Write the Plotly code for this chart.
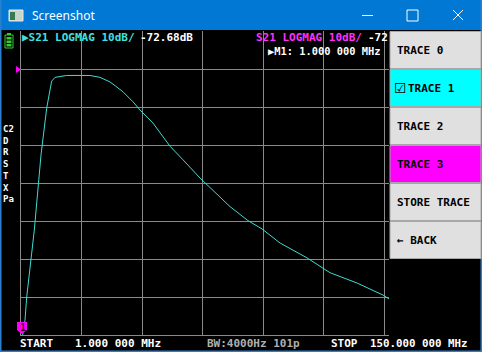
import plotly.graph_objects as go

# ---------------- data ----------------
freq_mhz = [1.0, 2.62, 3.31, 5.05, 6.39, 9.1, 11.4, 13.4, 14.8, 19.5, 24.9, 28.9,
            33.0, 37.0, 39.1, 42.3, 46.3, 49.2, 54.4, 61.3, 66.6, 73.5, 85.6,
            92.9, 98.6, 105.9, 116.8, 126.1, 137.0, 147.6, 150.0]
s21_db = [-72.68, -66.1, -60.0, -50.3, -42.4, -22.6, -10.3, -3.2, -2.2, -1.7,
          -1.6, -1.7, -2.2, -3.4, -4.4, -6.0, -8.6, -10.8, -14.2, -20.3, -23.9,
          -28.7, -36.2, -39.9, -42.1, -45.8, -49.7, -53.6, -56.3, -59.5, -60.5]
start_mhz, stop_mhz = 1.0, 150.0
ref_db, db_per_div, n_div_y = 10, 10, 8
menu_labels = ["TRACE 0", "☑ TRACE 1", "TRACE 2", "TRACE 3", "STORE TRACE", "← BACK"]
menu_colors = ["#e0e0e0", "#00ffff", "#e0e0e0", "#ff00ff", "#e0e0e0", "#e0e0e0"]
side_labels = ["C2", "D", "R", "S", "T", "X", "Pa"]

# ---------------- geometry ----------------
W, H = 482, 352
L, R, T, B = 21, 389, 31, 335


def px(x):
    return (x - L) / (R - L)


def py(y):
    return (B - y) / (B - T)


MONO = "DejaVu Sans Mono"
fig = go.Figure()
fig.add_trace(go.Scatter(x=freq_mhz, y=s21_db, mode="lines",
                         line=dict(color="#3fdcd0", width=1), hoverinfo="skip"))

grid = "#8a8a8a"
fig.update_layout(
    width=W, height=H, margin=dict(l=L, r=W - R, t=T, b=H - B),
    paper_bgcolor="black", plot_bgcolor="black", showlegend=False,
    xaxis=dict(range=[start_mhz, stop_mhz], tick0=1, dtick=24.5, showgrid=True,
               gridcolor=grid, gridwidth=1, showticklabels=False, ticks="",
               zeroline=False, showline=True, linecolor=grid, linewidth=1),
    yaxis=dict(range=[ref_db - db_per_div * n_div_y, ref_db], dtick=db_per_div,
               showgrid=True, gridcolor=grid, gridwidth=1, showticklabels=False,
               ticks="", zeroline=False, showline=True, linecolor=grid, linewidth=1),
)

shapes = []
ann = []

# title bar
shapes.append(dict(type="rect", xref="paper", yref="paper", x0=px(0), x1=px(W),
                   y0=py(0), y1=py(30), fillcolor="#0078d4", line=dict(width=0)))
# window border
for (x0, x1, y0, y1) in [(0, 1.5, 0, H), (W - 1.5, W, 0, H), (0, W, H - 1.5, H)]:
    shapes.append(dict(type="rect", xref="paper", yref="paper", x0=px(x0), x1=px(x1),
                       y0=py(y0), y1=py(y1), fillcolor="#2a7fd0", line=dict(width=0)))
# title icon
shapes.append(dict(type="rect", xref="paper", yref="paper", x0=px(9), x1=px(23),
                   y0=py(10), y1=py(21), fillcolor="#c8d4c8", line=dict(color="#e8e8e8", width=1)))
shapes.append(dict(type="rect", xref="paper", yref="paper", x0=px(10), x1=px(15),
                   y0=py(12), y1=py(20), fillcolor="#3a7a50", line=dict(width=0)))
ann.append(dict(text="Screenshot", xref="paper", yref="paper", x=px(30), y=py(15),
                xanchor="left", yanchor="middle", showarrow=False,
                font=dict(family="Noto Sans", size=12, color="white")))
# window controls
wc = dict(color="white", width=1)
shapes.append(dict(type="line", xref="paper", yref="paper", x0=px(362), x1=px(373),
                   y0=py(15.5), y1=py(15.5), line=wc))
shapes.append(dict(type="rect", xref="paper", yref="paper", x0=px(407), x1=px(418),
                   y0=py(10), y1=py(21), line=wc))
shapes.append(dict(type="line", xref="paper", yref="paper", x0=px(453), x1=px(463),
                   y0=py(10), y1=py(20), line=wc))
shapes.append(dict(type="line", xref="paper", yref="paper", x0=px(453), x1=px(463),
                   y0=py(20), y1=py(10), line=wc))

# battery icon
shapes.append(dict(type="rect", xref="paper", yref="paper", x0=px(5), x1=px(13),
                   y0=py(35), y1=py(48), fillcolor="black", line=dict(color="#30d030", width=1)))
shapes.append(dict(type="rect", xref="paper", yref="paper", x0=px(7), x1=px(11),
                   y0=py(33), y1=py(35), fillcolor="#30d030", line=dict(width=0)))
for yy in [37, 40.5, 44]:
    shapes.append(dict(type="rect", xref="paper", yref="paper", x0=px(6.5), x1=px(11.5),
                       y0=py(yy), y1=py(yy + 2.5), fillcolor="#30d030", line=dict(width=0)))

# reference level marker
shapes.append(dict(type="path", xref="paper", yref="paper",
                   path=f"M {px(16)} {py(66)} L {px(21)} {py(69.5)} L {px(16)} {py(73)} Z",
                   fillcolor="#ff00ff", line=dict(width=0)))

# side labels (one stacked text block)
ann.append(dict(text="<b>" + "<br>".join(side_labels) + "</b>", xref="paper", yref="paper",
                x=px(1.5), y=py(164), xanchor="left", yanchor="middle", align="left",
                showarrow=False, borderpad=0,
                font=dict(family=MONO, size=9, color="white")))


def label(text, x, y, color, size=11, family=MONO):
    ann.append(dict(text=f"<b>{text}</b>", xref="paper", yref="paper", x=px(x), y=py(y),
                    xanchor="left", yanchor="middle", showarrow=False, borderpad=0,
                    font=dict(family=family, size=size, color=color)))


# header
label("▶S21 LOGMAG 10dB/", 21, 37.5, "#40e0e0")
label("-72.68dB", 139, 37.5, "white")
label("S21 LOGMAG 10dB/", 255, 37, "#ff30ff")
label("-72", 367, 37, "white")
label("▶M1: 1.000 000 MHz", 267, 50.5, "white", size=10.4)

# footer
label("START", 19, 343, "white")
label("1.000 000 MHz", 74, 343, "white")
label("BW:4000Hz 101p", 206, 343, "#b0b0b0")
label("STOP", 330, 343, "white")
label("150.000 000 MHz", 369, 343, "white", size=10.8)

# marker 1
shapes.append(dict(type="path", xref="paper", yref="paper",
                   path=(f"M {px(17)} {py(322)} L {px(27)} {py(322)} L {px(27)} {py(330)} "
                         f"L {px(22)} {py(334)} L {px(17)} {py(330)} Z"),
                   fillcolor="#ff00ff", line=dict(width=0), layer="above"))
label("1", 18.5, 327.5, "#400040", size=10)

# menu buttons
for i, (lab, col) in enumerate(zip(menu_labels, menu_colors)):
    y0 = 31 + 38 * i
    shapes.append(dict(type="rect", xref="paper", yref="paper", x0=px(390), x1=px(481),
                       y0=py(y0 + 0.5), y1=py(y0 + 37.5), fillcolor=col,
                       line=dict(color="#a8a8a8", width=1), layer="above"))
    if lab.startswith("☑"):
        label("☑", 393, y0 + 19, "black", size=14, family="DejaVu Sans")
        label(lab[2:], 407, y0 + 19, "black")
    else:
        label(lab, 396, y0 + 19, "black")

fig.update_layout(shapes=shapes, annotations=ann)
fig.write_html("out.html")
